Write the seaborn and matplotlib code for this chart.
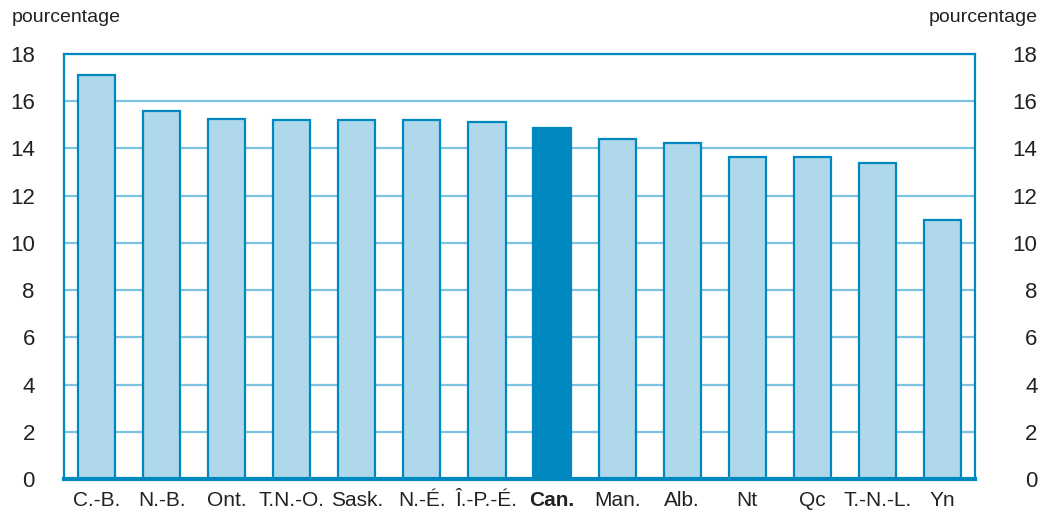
import matplotlib
matplotlib.use("Agg")
import matplotlib.pyplot as plt
import seaborn as sns
import pandas as pd

# data
provinces = ["C.-B.", "N.-B.", "Ont.", "T.N.-O.", "Sask.", "N.-É.", "Î.-P.-É.",
             "Can.", "Man.", "Alb.", "Nt", "Qc", "T.-N.-L.", "Yn"]
values = [17.1, 15.6, 15.25, 15.2, 15.2, 15.2, 15.1,
          14.85, 14.4, 14.25, 13.65, 13.65, 13.4, 10.95]
yticks = [0, 2, 4, 6, 8, 10, 12, 14, 16, 18]
highlight = "Can."

dark = "#0088c0"
light = "#afd8ea"
grid = "#7fc3e2"

sns.set_theme(style="white")
plt.rcParams["font.family"] = ["Liberation Sans", "DejaVu Sans"]

df = pd.DataFrame({"prov": provinces, "val": values})
palette = {p: (dark if p == highlight else light) for p in provinces}

fig = plt.figure(figsize=(10.52, 5.16), dpi=100)
ax = fig.add_axes([64 / 1052, 37 / 516, 911 / 1052, 425 / 516])

sns.barplot(data=df, x="prov", y="val", hue="prov", palette=palette,
            legend=False, width=0.57, saturation=1, ax=ax, zorder=3)
for p in ax.patches:
    p.set_edgecolor(dark)
    p.set_linewidth(1.6)

ax.set_xlim(-0.5, len(provinces) - 0.5)
ax.set_ylim(0, 18)
ax.set_yticks(yticks)
ax.yaxis.grid(True, color=grid, linewidth=1.6, zorder=0)
ax.set_axisbelow(True)
ax.set_xlabel("")
ax.set_ylabel("")

for side in ["top", "left", "right"]:
    ax.spines[side].set_color(dark)
    ax.spines[side].set_linewidth(1.6)
ax.spines["bottom"].set_color(dark)
ax.spines["bottom"].set_linewidth(3)
ax.spines["bottom"].set_zorder(5)

ax.tick_params(axis="y", length=0, pad=21, labelsize=16, labelcolor="#222222")
ax.tick_params(axis="x", length=0, pad=9, labelsize=15, labelcolor="#222222")
for lbl in ax.get_xticklabels():
    if lbl.get_text() == highlight:
        lbl.set_fontweight("bold")

ax2 = ax.twinx()
ax2.set_ylim(0, 18)
ax2.set_yticks(yticks)
ax2.tick_params(axis="y", length=0, pad=45, labelsize=16, labelcolor="#222222")
for lbl in ax2.get_yticklabels():
    lbl.set_horizontalalignment("right")
for s in ax2.spines.values():
    s.set_visible(False)

fig.text(12 / 1052, 1 - 9 / 516, "pourcentage", ha="left", va="top",
         fontsize=14, color="#222222")
fig.text(1038 / 1052, 1 - 9 / 516, "pourcentage", ha="right", va="top",
         fontsize=14, color="#222222")

fig.savefig("out.png", dpi=100)
